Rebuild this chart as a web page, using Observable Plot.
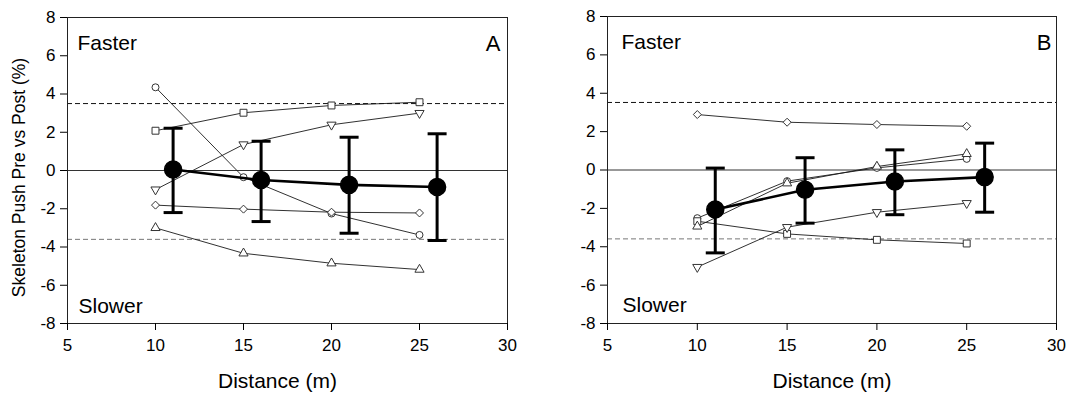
<!DOCTYPE html>
<html><head><meta charset="utf-8">
<script src="https://cdn.jsdelivr.net/npm/d3@7"></script>
<script src="https://cdn.jsdelivr.net/npm/@observablehq/plot@0.6"></script>
<style>
body{margin:0;background:#fff;}
#wrap{display:flex;width:1088px;height:397px;overflow:hidden;}
#wrap svg{display:block;overflow:visible;}
</style></head><body><div id="wrap"></div>
<script>
// ---- shared ----
const distances = [10, 15, 20, 25];
const meanDistances = [11, 16, 21, 26];
const xTicks = [5, 10, 15, 20, 25, 30];
const yTicks = [-8, -6, -4, -2, 0, 2, 4, 6, 8];
const yLabel = "Skeleton Push Pre vs Post (%)";
const xLabel = "Distance (m)";
const fasterLabel = "Faster";
const slowerLabel = "Slower";

// ---- Panel A ----
const aCircle   = [4.35, -0.35, -2.25, -3.37];
const aSquare   = [2.08, 3.02, 3.40, 3.57];
const aTriDown  = [-1.00, 1.36, 2.39, 3.00];
const aDiamond  = [-1.81, -2.02, -2.18, -2.22];
const aTriUp    = [-3.00, -4.33, -4.85, -5.18];
const aMean     = [0.05, -0.50, -0.75, -0.86];
const aUpper    = [2.21, 1.53, 1.74, 1.92];
const aLower    = [-2.20, -2.67, -3.28, -3.66];
const aThresholds = [3.5, -3.6];

// ---- Panel B ----
const bCircle   = [-2.51, -0.58, 0.11, 0.58];
const bSquare   = [-2.67, -3.33, -3.64, -3.83];
const bTriDown  = [-5.06, -2.98, -2.20, -1.73];
const bDiamond  = [2.89, 2.49, 2.37, 2.28];
const bTriUp    = [-2.94, -0.69, 0.18, 0.84];
const bMean     = [-2.06, -1.03, -0.60, -0.37];
const bUpper    = [0.10, 0.64, 1.05, 1.40];
const bLower    = [-4.32, -2.77, -2.33, -2.20];
const bThresholds = [3.52, -3.59];

const FONT = "'Liberation Sans', Arial, Helvetica, sans-serif";

const triangleDown = {
  draw(ctx, size) {
    const y = -Math.sqrt(size / (Math.sqrt(3) * 3));
    ctx.moveTo(0, -y * 2);
    ctx.lineTo(-Math.sqrt(3) * y, y);
    ctx.lineTo(Math.sqrt(3) * y, y);
    ctx.closePath();
  }
};
const capSymbol = {
  draw(ctx) { ctx.moveTo(-9.5, 0); ctx.lineTo(9.5, 0); }
};

function panel(cfg) {
  const series = [
    {values: cfg.circle, symbol: "circle", r: 3.5},
    {values: cfg.square, symbol: "square", r: 3.9},
    {values: cfg.triDown, symbol: triangleDown, r: 3.4},
    {values: cfg.diamond, symbol: "diamond2", r: 3.6},
    {values: cfg.triUp, symbol: "triangle", r: 3.4}
  ];
  const meanRows = meanDistances.map((d, i) => ({x: d, y: cfg.mean[i], hi: cfg.upper[i], lo: cfg.lower[i]}));
  const capRows = meanRows.flatMap(r => [{x: r.x, y: r.hi}, {x: r.x, y: r.lo}]);

  const marks = [
    Plot.ruleY([0], {stroke: "#333", strokeWidth: 1}),
    Plot.ruleY([cfg.thresholds[0]], {stroke: "#111", strokeWidth: 1, strokeDasharray: "5,3"}),
    Plot.ruleY([cfg.thresholds[1]], {stroke: "#777", strokeWidth: 1, strokeDasharray: "5,3"})
  ];
  for (const s of series) {
    const rows = distances.map((d, i) => ({x: d, y: s.values[i]}));
    marks.push(Plot.line(rows, {x: "x", y: "y", stroke: "#1a1a1a", strokeWidth: 0.9}));
  }
  for (const s of series) {
    const rows = distances.map((d, i) => ({x: d, y: s.values[i]}));
    marks.push(Plot.dot(rows, {x: "x", y: "y", symbol: s.symbol, r: s.r, fill: "white", stroke: "#333", strokeWidth: 1}));
  }
  marks.push(
    Plot.line(meanRows, {x: "x", y: "y", stroke: "black", strokeWidth: 2.6}),
    Plot.ruleX(meanRows, {x: "x", y1: "lo", y2: "hi", stroke: "black", strokeWidth: 3}),
    Plot.dot(capRows, {x: "x", y: "y", symbol: capSymbol, r: 5, fill: "none", stroke: "black", strokeWidth: 3}),
    Plot.dot(meanRows, {x: "x", y: "y", r: 8.5, fill: "black", stroke: "black"}),
    Plot.frame({stroke: "#222", strokeWidth: 1}),
    Plot.axisY({ticks: yTicks, tickSize: 7, tickPadding: 5, tickFormat: d => String(d), label: null, fontSize: 17}),
    Plot.axisX({ticks: xTicks, tickSize: 7, tickPadding: 8, tickFormat: d => String(d), label: null, fontSize: 17}),
    Plot.text([fasterLabel], {frameAnchor: "top-left", textAnchor: "start", lineAnchor: "top", dx: cfg.textDx, dy: 18, fontSize: 21}),
    Plot.text([slowerLabel], {frameAnchor: "top-left", textAnchor: "start", lineAnchor: "top", dx: cfg.textDx + 1, dy: 281, fontSize: 21}),
    Plot.text([cfg.letter], {frameAnchor: "top-right", textAnchor: "end", lineAnchor: "top", dx: cfg.letterDx, dy: 18, fontSize: 22}),
    Plot.text([xLabel], {frameAnchor: "bottom", textAnchor: "middle", lineAnchor: "middle", dx: cfg.xLabelDx, dy: 58, fontSize: 21})
  );
  if (cfg.showYLabel) {
    marks.push(Plot.text([yLabel], {frameAnchor: "left", textAnchor: "middle", lineAnchor: "middle", rotate: -90, dx: -48, dy: 7, fontSize: 17.5}));
  }
  return Plot.plot({
    width: 544, height: 397,
    marginLeft: cfg.ml, marginRight: cfg.mr, marginTop: cfg.mt, marginBottom: 74,
    x: {domain: [5, 30]},
    y: {domain: [-8, 8]},
    style: {fontFamily: FONT, color: "black", background: "white", overflow: "visible"},
    marks
  });
}

const wrap = document.getElementById("wrap");
wrap.append(panel({
  circle: aCircle, square: aSquare, triDown: aTriDown, diamond: aDiamond, triUp: aTriUp,
  mean: aMean, upper: aUpper, lower: aLower, thresholds: aThresholds,
  letter: "A", showYLabel: true, ml: 67, mr: 37, mt: 17, textDx: 10, letterDx: -7, xLabelDx: -10
}));
wrap.append(panel({
  circle: bCircle, square: bSquare, triDown: bTriDown, diamond: bDiamond, triUp: bTriUp,
  mean: bMean, upper: bUpper, lower: bLower, thresholds: bThresholds,
  letter: "B", showYLabel: false, ml: 63, mr: 32, mt: 16, textDx: 14, letterDx: -5, xLabelDx: 0
}));
</script></body></html>
